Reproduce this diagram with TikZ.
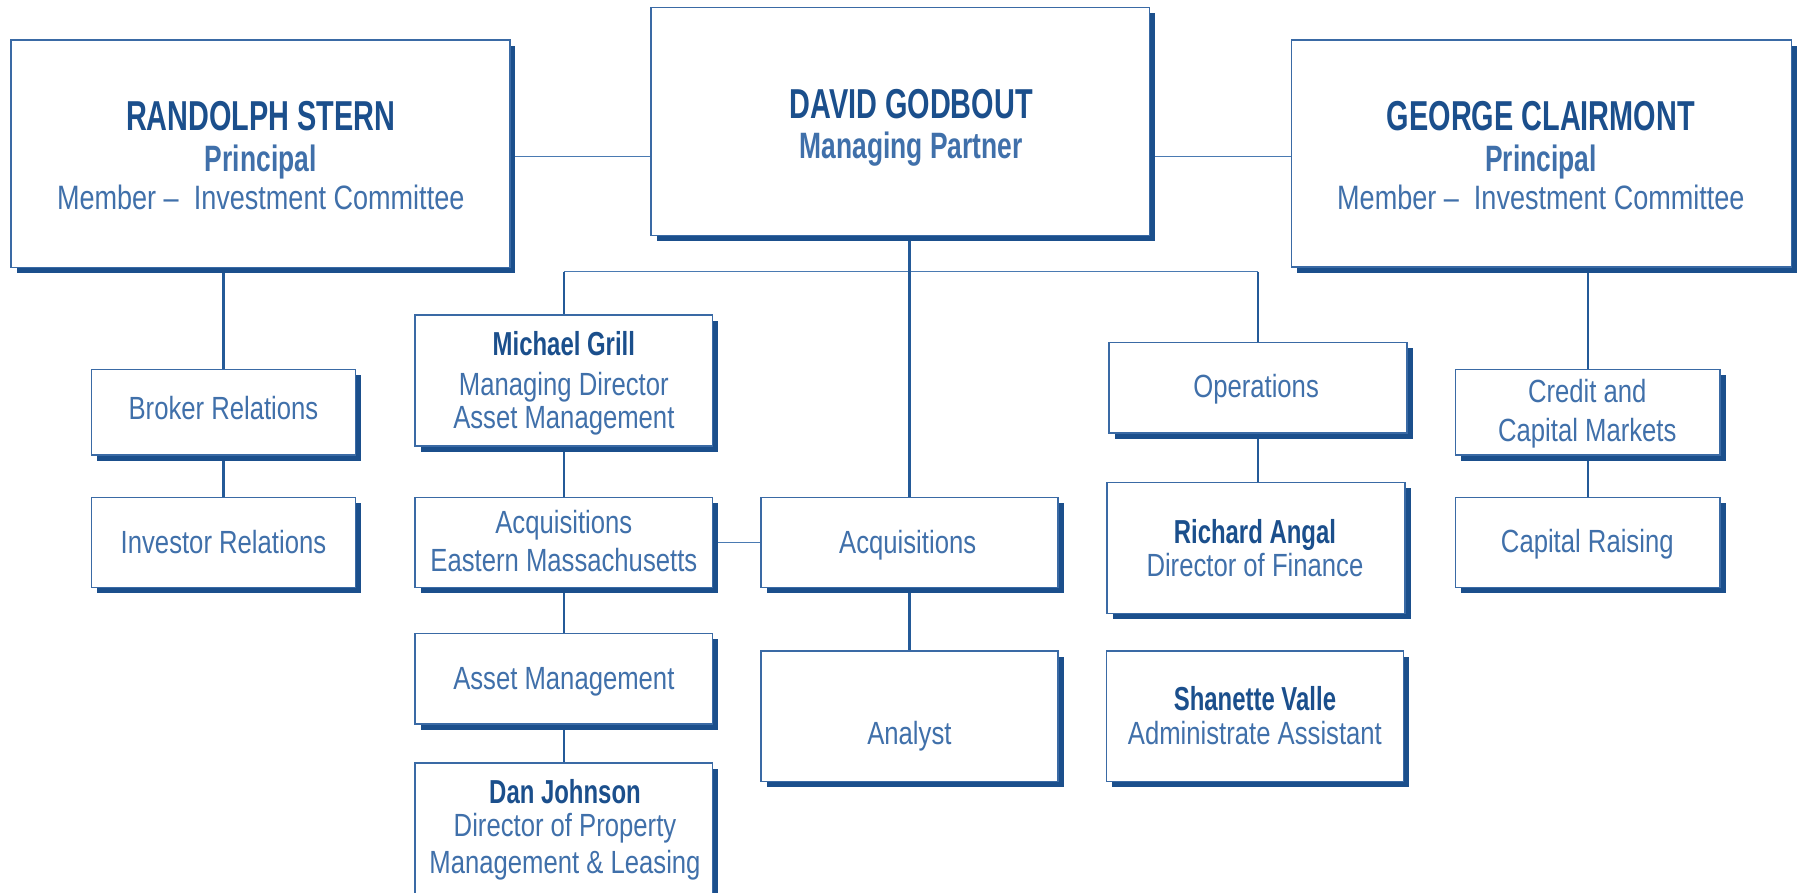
\documentclass[tikz,border=0pt]{standalone}
\usepackage{fontspec}
\setmainfont{Liberation Sans}[FakeStretch=0.8]
\newfontfamily\bnarrow{Liberation Sans}[FakeStretch=0.72]
\newfontfamily\bbnarrow{Liberation Sans}[FakeStretch=0.69]
\usetikzlibrary{shadows,backgrounds}
\definecolor{shadc}{HTML}{1B4F8C}
\definecolor{boxc}{HTML}{3A6AA5}
\definecolor{namec}{HTML}{1B4F8C}
\definecolor{rolec}{HTML}{4070AA}
\definecolor{linec}{HTML}{245A98}
\definecolor{hlinec}{HTML}{4A7AB2}
\begin{document}
\begin{tikzpicture}[x=1pt,y=-1pt,
  orgbox/.style={draw=boxc, line width=1.3pt, fill=white, rectangle, inner sep=0pt,
    drop shadow={shadow xshift=5pt, shadow yshift=-5pt, fill=shadc, opacity=1}},
  vline/.style={draw=linec, line width=1.9pt},
  hline/.style={draw=hlinec, line width=1.3pt},
  txt/.style={anchor=base, inner sep=0pt, outer sep=0pt},
  bigname/.style={txt, text=namec, font=\bbnarrow\bfseries\fontsize{36.5}{40}\selectfont},
  bigrole/.style={txt, text=rolec, font=\bnarrow\bfseries\fontsize{32}{36}\selectfont},
  member/.style={txt, text=rolec, font=\fontsize{29.5}{34}\selectfont},
  smallname/.style={txt, text=namec, font=\bnarrow\bfseries\fontsize{29}{33}\selectfont},
  reg/.style={txt, text=rolec, font=\fontsize{28}{32}\selectfont}
]
\useasboundingbox (0,0) rectangle (1568,779);
\clip (0,0) rectangle (1568,779);

% ---- boxes ----
\node[orgbox, minimum width=435.4pt, minimum height=198.7pt] (rs) at (227.1,134.25) {};
\node[orgbox, minimum width=435pt, minimum height=199pt] (dg) at (785.5,106.2) {};
\node[orgbox, minimum width=436pt, minimum height=198pt] (gc) at (1345,134) {};

\node[orgbox, minimum width=230pt, minimum height=74.7pt] (br) at (195,359.65) {};
\node[orgbox, minimum width=230pt, minimum height=78.5pt] (ir) at (195,473.25) {};

\node[orgbox, minimum width=259.5pt, minimum height=114pt] (mg) at (492,332) {};
\node[orgbox, minimum width=259.5pt, minimum height=78.5pt] (em) at (492,473.25) {};
\node[orgbox, minimum width=259.5pt, minimum height=79.2pt] (am) at (492,592.2) {};
\node[orgbox, minimum width=259.5pt, minimum height=134.2pt] (dj) at (492,732.9) {};

\node[orgbox, minimum width=259.3pt, minimum height=78.5pt] (acq) at (793.65,473.25) {};
\node[orgbox, minimum width=259.3pt, minimum height=114pt] (an) at (793.65,625) {};

\node[orgbox, minimum width=260pt, minimum height=79pt] (ops) at (1097.5,338.5) {};
\node[orgbox, minimum width=260pt, minimum height=114pt] (ra) at (1096,478.2) {};
\node[orgbox, minimum width=259pt, minimum height=114pt] (sv) at (1095,625) {};

\node[orgbox, minimum width=231pt, minimum height=74.7pt] (cr) at (1385.5,359.65) {};
\node[orgbox, minimum width=231pt, minimum height=78.5pt] (cp) at (1385.5,473.25) {};

% ---- connectors ----
\coordinate (hl) at (0,136.7);
\coordinate (bar) at (0,237.1);
\begin{scope}[on background layer]
  \draw[hline] (rs.east |- hl) -- (dg.west |- hl);
  \draw[hline] (dg.east |- hl) -- (gc.west |- hl);
  \draw[hline] (mg.north |- bar) -- (ops.north |- bar);
  \draw[vline] (mg.north |- bar) -- (mg.north);
  \draw[vline] (ops.north |- bar) -- (ops.north);
  \draw[vline] (acq.north |- dg.south) -- (acq.north);
  \draw[vline] (acq.south) -- (an.north);
  \draw[vline] (br.north |- rs.south) -- (br.north);
  \draw[vline] (br.south) -- (ir.north);
  \draw[vline] (mg.south) -- (em.north);
  \draw[vline] (em.south) -- (am.north);
  \draw[vline] (am.south) -- (dj.north);
  \draw[hline] (em.east) -- (acq.west);
  \draw[vline] (ops.south) -- (ops.south |- ra.north);
  \draw[vline] (cr.north |- gc.south) -- (cr.north);
  \draw[vline] (cr.south) -- (cp.north);
\end{scope}

% ---- texts ----
\node[bigname] (rs1) at (227.5,114) {RANDOLPH STERN};
\node[bigrole] (rs2) at (227.5,150) {Principal};
\node[member] (rs3) at (227.5,183) {Member –~~Investment Committee};

\node[bigname] (dg1) at (795,103) {DAVID GODBOUT};
\node[bigrole] (dg2) at (795,138) {Managing Partner};

\node[bigname] (gc1) at (1344.5,114) {GEORGE CLAIRMONT};
\node[bigrole] (gc2) at (1344.5,150) {Principal};
\node[member] (gc3) at (1344.5,183) {Member –~~Investment Committee};

\node[reg] (br1) at (195,365.6) {Broker Relations};
\node[reg] (ir1) at (195,482.8) {Investor Relations};

\node[smallname] (mg1) at (492,310.6) {Michael Grill};
\node[reg] (mg2) at (492,344.7) {Managing Director};
\node[reg] (mg3) at (492,373.8) {Asset Management};

\node[reg] (em1) at (492,465.4) {Acquisitions};
\node[reg] (em2) at (492,498.8) {Eastern Massachusetts};

\node[reg] (am1) at (492,601.5) {Asset Management};

\node[smallname] (dj1) at (493,701) {Dan Johnson};
\node[reg] (dj2) at (493,730) {Director of Property};
\node[reg] (dj3) at (493,762) {Management \& Leasing};

\node[reg] (acq1) at (792,482.8) {Acquisitions};
\node[reg] (an1) at (793.5,650) {Analyst};

\node[reg] (ops1) at (1096,347) {Operations};
\node[smallname] (ra1) at (1095,474) {Richard Angal};
\node[reg] (ra2) at (1095,503.2) {Director of Finance};
\node[smallname] (sv1) at (1095,619.6) {Shanette Valle};
\node[reg] (sv2) at (1095,650) {Administrate Assistant};

\node[reg] (cr1) at (1385,351) {Credit and};
\node[reg] (cr2) at (1385,385.4) {Capital Markets};
\node[reg] (cp1) at (1385,482) {Capital Raising};
\end{tikzpicture}
\end{document}
